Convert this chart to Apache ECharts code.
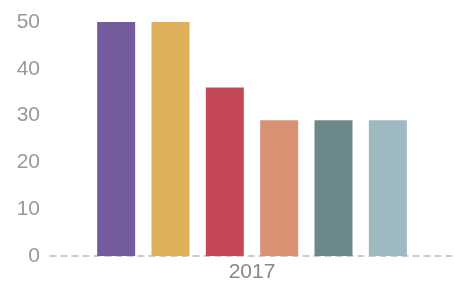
<!DOCTYPE html>
<html>
<head>
<meta charset="utf-8">
<script src="https://cdn.jsdelivr.net/npm/echarts@6/dist/echarts.min.js"></script>
<style>
html, body { margin: 0; padding: 0; background: #fff; }
#chart { width: 454px; height: 289px; }
</style>
</head>
<body>
<div id="chart"></div>
<script>
var categories = ['2017'];
var seriesNames = ['A', 'B', 'C', 'D', 'E', 'F'];
var seriesValues = [50, 50, 36, 29, 29, 29];
var colors = ['#735b9c', '#dfb05b', '#c54859', '#d99374', '#6b898b', '#9dbac0'];
var yTicks = [0, 10, 20, 30, 40, 50];

var chart = echarts.init(document.getElementById('chart'));

var series = seriesNames.map(function (name, i) {
    return {
        name: name,
        type: 'bar',
        data: [seriesValues[i]],
        barWidth: 38,
        barGap: '43%',
        itemStyle: { color: colors[i] }
    };
});

chart.setOption({
    animation: false,
    grid: { left: 50, right: 0, top: 22, bottom: 33 },
    xAxis: {
        type: 'category',
        data: categories,
        axisLine: { lineStyle: { color: '#bbbbbb', type: [6, 5], width: 1.5 } },
        axisTick: { show: false },
        axisLabel: { color: '#888888', fontSize: 21, margin: 6, fontFamily: 'Liberation Sans' }
    },
    yAxis: {
        type: 'value',
        min: yTicks[0],
        max: yTicks[yTicks.length - 1],
        interval: 10,
        splitLine: { show: false },
        axisLine: { show: false },
        axisTick: { show: false },
        axisLabel: { color: '#999999', fontSize: 21, margin: 10, fontFamily: 'Liberation Sans' }
    },
    series: series
});

window.addEventListener('resize', chart.resize);
</script>
</body>
</html>
